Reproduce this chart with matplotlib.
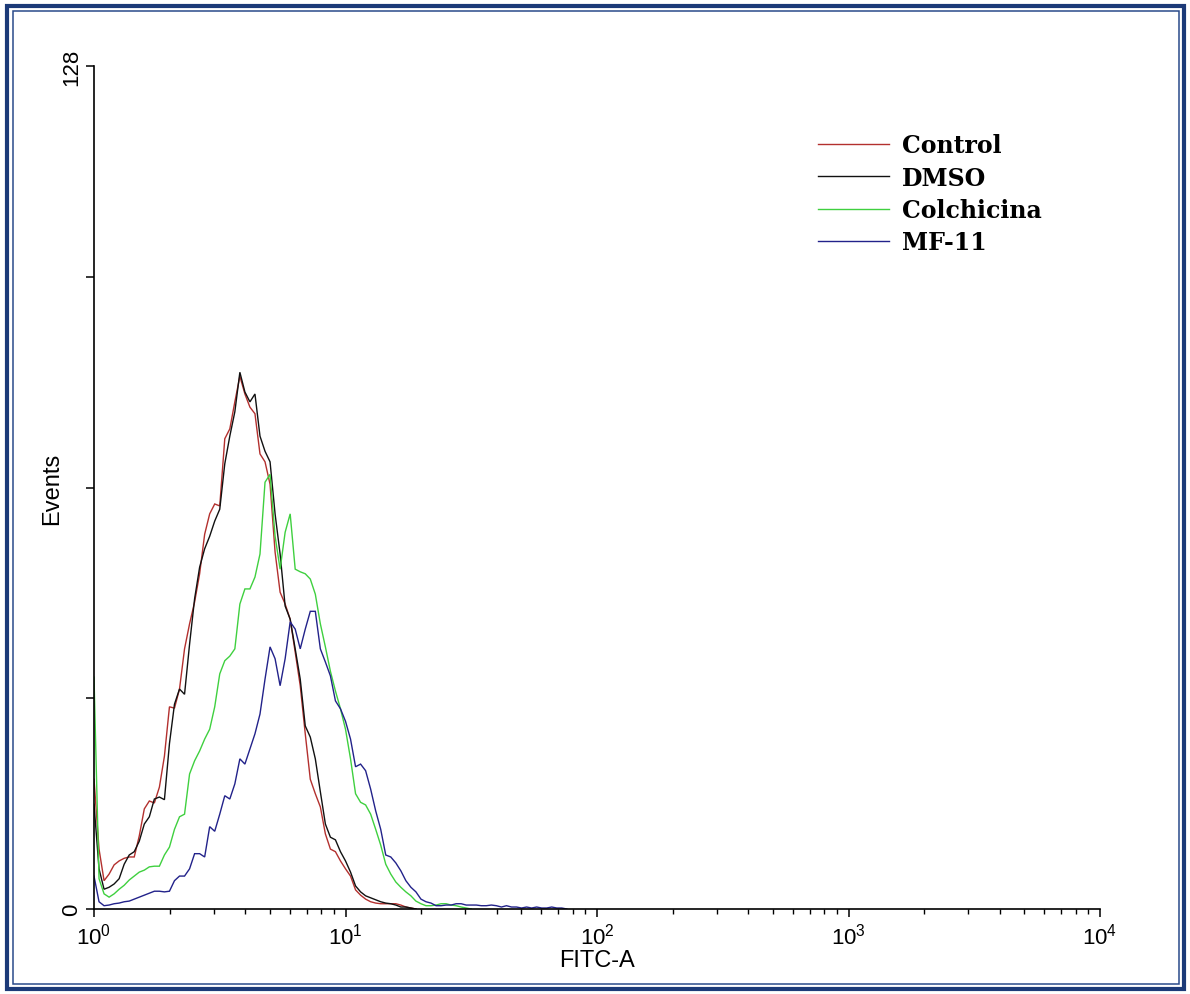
import numpy as np
import matplotlib
matplotlib.use("Agg")
import matplotlib.pyplot as plt
from matplotlib.ticker import FixedLocator, LogLocator, NullFormatter, FixedFormatter
from matplotlib.patches import Rectangle

plt.rcParams['font.family'] = ['Liberation Sans', 'DejaVu Sans']
plt.rcParams['mathtext.default'] = 'regular'

# ---- data (histogram counts per log channel) ----
channel_step = 0.02  # decades per plotted channel
series_names = ["Control", "DMSO", "Colchicina", "MF-11"]
series_colors = ["#b3302e", "#111111", "#3fd03f", "#22228a"]

control = [19.7, 9.1, 4.3, 5.3, 6.7, 7.3, 7.7, 7.9, 7.9, 11.1, 15.2, 16.4, 16.1, 18.5,
           23.2, 30.7, 30.5, 33.4, 39.5, 43.3, 46.6, 50.9, 56.9, 60.0, 61.5, 61.2, 71.4,
           72.9, 77.0, 80.9, 78.2, 76.2, 75.2, 69.1, 67.9, 64.5, 54.2, 48.1, 46.3, 44.0,
           39.0, 33.9, 26.6, 19.7, 17.5, 15.5, 11.4, 9.1, 8.7, 7.3, 6.1, 5.0, 2.9, 2.1,
           1.5, 1.1, 0.9, 0.8, 0.8, 0.8, 0.8, 0.6, 0.3, 0.15, 0.0]
dmso = [15.9, 6.1, 3.0, 3.3, 3.8, 4.6, 6.8, 8.2, 8.7, 10.3, 12.9, 14.0, 16.7, 17.0, 16.6,
        25.1, 31.1, 33.4, 32.6, 40.2, 47.1, 51.9, 54.7, 56.6, 58.9, 60.7, 67.6, 71.8, 75.5,
        81.5, 78.5, 77.0, 78.2, 71.8, 69.5, 67.9, 60.0, 53.9, 46.0, 44.0, 39.5, 34.9, 27.8,
        26.1, 22.8, 17.8, 12.9, 10.9, 10.5, 8.7, 7.3, 5.6, 3.5, 2.6, 2.0, 1.7, 1.4, 1.1,
        0.9, 0.8, 0.6, 0.3, 0.3, 0.15, 0.0]
colchicina = [35.2, 4.6, 2.3, 1.8, 2.3, 3.0, 3.6, 4.4, 5.0, 5.6, 5.9, 6.4, 6.5, 6.5, 8.2,
              9.4, 12.1, 14.0, 14.4, 20.5, 22.5, 24.0, 25.8, 27.3, 30.7, 35.7, 37.7, 38.4,
              39.5, 46.3, 48.6, 48.6, 50.4, 53.9, 64.8, 66.0, 56.6, 51.6, 57.2, 60.0, 51.6,
              51.2, 50.9, 50.1, 47.8, 43.3, 39.8, 36.1, 33.1, 30.4, 27.3, 22.8, 17.5, 16.2,
              15.8, 14.4, 12.1, 9.7, 6.8, 5.3, 4.1, 3.3, 2.6, 2.0, 1.2, 0.8, 0.5, 0.5, 0.6,
              0.8, 0.8, 0.6, 0.5, 0.3, 0.15, 0.0]
mf11 = [5.0, 1.1, 0.5, 0.6, 0.8, 0.9, 1.1, 1.2, 1.5, 1.8, 2.1, 2.4, 2.7, 2.7, 2.6, 2.7,
        4.3, 5.0, 5.0, 6.1, 8.4, 8.4, 7.9, 12.5, 11.8, 14.4, 17.2, 16.7, 19.0, 22.8, 22.0,
        24.3, 26.6, 29.6, 34.9, 39.8, 38.0, 33.9, 38.0, 43.6, 42.5, 39.5, 42.5, 45.2, 45.2,
        39.5, 37.5, 35.4, 31.6, 30.4, 28.5, 25.8, 21.6, 22.0, 21.0, 18.2, 14.9, 12.1, 8.2,
        7.9, 7.0, 5.8, 4.3, 3.3, 2.6, 1.5, 1.1, 0.9, 0.5, 0.5, 0.6, 0.6, 0.8, 0.8, 0.6,
        0.6, 0.6, 0.5, 0.5, 0.6, 0.5, 0.3, 0.5, 0.3, 0.3, 0.15, 0.3, 0.15, 0.3, 0.15, 0.15,
        0.3, 0.15, 0.15, 0.0]
series_values = [control, dmso, colchicina, mf11]

y_ticks = [0, 32, 64, 96, 128]
y_tick_labels = ["0", "", "", "", "128"]
x_ticks = [1, 10, 100, 1000, 10000]
x_tick_labels = [r"$10^{0}$", r"$10^{1}$", r"$10^{2}$", r"$10^{3}$", r"$10^{4}$"]
x_label = "FITC-A"
y_label = "Events"

# ---- figure ----
W, H = 1190, 995
fig = plt.figure(figsize=(W / 100, H / 100), dpi=100)
fig.patch.set_facecolor("white")

ax_l, ax_r, ax_t, ax_b = 94, 1100, 67, 910
ax = fig.add_axes([ax_l / W, 1 - ax_b / H, (ax_r - ax_l) / W, (ax_b - ax_t) / H])

for vals, name, col in zip(series_values, series_names, series_colors):
    n = len(vals)
    x = 10 ** (channel_step * np.arange(n))
    ax.plot(x, vals, color=col, lw=1.0, label=name, solid_joinstyle="miter")

ax.set_xscale("log")
ax.set_xlim(1, 10000)
ax.set_ylim(0, 128)

for s in ["top", "right"]:
    ax.spines[s].set_visible(False)
for s in ["left", "bottom"]:
    ax.spines[s].set_linewidth(1.2)
    ax.spines[s].set_color("black")

ax.xaxis.set_major_locator(FixedLocator(x_ticks))
ax.xaxis.set_major_formatter(FixedFormatter(x_tick_labels))
ax.xaxis.set_minor_locator(LogLocator(base=10, subs=np.arange(2, 10)))
ax.xaxis.set_minor_formatter(NullFormatter())
ax.tick_params(axis="x", which="major", direction="out", length=5.5, width=1.1,
               labelsize=16, pad=4)
ax.tick_params(axis="x", which="minor", direction="out", length=3.5, width=1.0)

ax.yaxis.set_major_locator(FixedLocator(y_ticks))
ax.yaxis.set_major_formatter(FixedFormatter(y_tick_labels))
ax.tick_params(axis="y", which="major", direction="out", length=5.5, width=1.1,
               labelsize=16, pad=3)
for lab in ax.get_yticklabels():
    lab.set_rotation(90)
    lab.set_va("center")

ax.set_xlabel(x_label, fontsize=17, labelpad=0)
ax.set_ylabel(y_label, fontsize=17)
ax.yaxis.set_label_coords((63 - ax_l) / (ax_r - ax_l), 0.5)
ax.xaxis.set_label_coords(0.5, -(972 - ax_b) / (ax_b - ax_t))
ax.xaxis.label.set_va("bottom")

leg = ax.legend(loc="upper left",
                bbox_to_anchor=((818 - ax_l) / (ax_r - ax_l), (ax_b - 134) / (ax_b - ax_t)),
                frameon=False, borderpad=0, borderaxespad=0, handlelength=3.0,
                handletextpad=0.55, labelspacing=0.36,
                prop={"family": "DejaVu Serif", "size": 17, "weight": "bold"})
for line in leg.get_lines():
    line.set_linewidth(1.0)

# ---- double navy frame around the picture ----
fig.add_artist(Rectangle((7 / W, 1 - 990 / H), (1184 - 7) / W, (990 - 6.5) / H,
                         transform=fig.transFigure, fill=False, ec="#1c3a78", lw=3.0))
fig.add_artist(Rectangle((12.5 / W, 1 - 985 / H), (1179 - 12.5) / W, (985 - 11.5) / H,
                         transform=fig.transFigure, fill=False, ec="#2a4a8a", lw=1.1))

fig.savefig("out.png", dpi=100, facecolor="white")
